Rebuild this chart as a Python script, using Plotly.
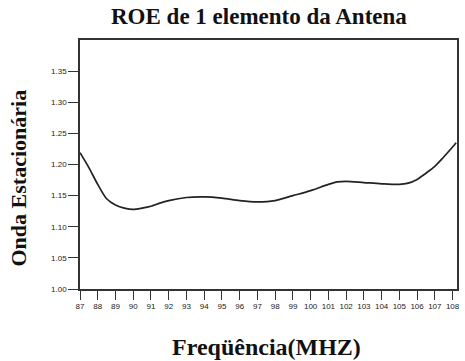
import plotly.graph_objects as go

# Frequência (MHz) e relação de onda estacionária medida
freq = [87.0, 87.5, 88.0, 88.5, 89.0, 89.5, 90.0, 90.5, 91.0, 91.5, 92.0, 93.0,
        94.0, 95.0, 96.0, 97.0, 98.0, 99.0, 100.0, 101.0, 101.5, 102.0, 103.0,
        104.0, 105.0, 105.5, 106.0, 106.5, 107.0, 107.5, 108.0, 108.2]
roe = [1.219, 1.195, 1.168, 1.145, 1.135, 1.130, 1.128, 1.130, 1.133, 1.138, 1.142, 1.147,
       1.148, 1.146, 1.142, 1.140, 1.142, 1.150, 1.158, 1.168, 1.172, 1.173, 1.171,
       1.169, 1.168, 1.170, 1.176, 1.186, 1.197, 1.212, 1.228, 1.235]

x_ticks = list(range(87, 109))
y_ticks = [1.00, 1.05, 1.10, 1.15, 1.20, 1.25, 1.30, 1.35]

fig = go.Figure()
fig.add_trace(go.Scatter(
    x=freq, y=roe, mode="lines",
    line=dict(color="#222222", width=1.7, shape="spline", smoothing=0.8),
    hoverinfo="skip", showlegend=False,
))

serif = "Liberation Serif, Times New Roman, serif"
tickfont = dict(family="Liberation Sans, Arial, sans-serif", size=8, color="#222222")

fig.update_layout(
    width=465, height=361,
    margin=dict(l=80, r=5, t=40, b=72),
    paper_bgcolor="white", plot_bgcolor="white",
    xaxis=dict(
        range=[87, 108.25], tickvals=x_ticks, ticktext=[str(v) for v in x_ticks],
        ticks="outside", ticklen=9, tickcolor="#333333", tickwidth=1,
        showline=True, linecolor="#333333", linewidth=1.5, mirror=True,
        showgrid=False, zeroline=False, tickfont=tickfont, tickangle=0,
    ),
    yaxis=dict(
        range=[1.0, 1.4], tickvals=y_ticks, ticktext=[f"{v:.2f}" for v in y_ticks],
        ticks="outside", ticklen=10, tickcolor="#333333", tickwidth=1,
        showline=True, linecolor="#333333", linewidth=1.5, mirror=True,
        showgrid=False, zeroline=False, tickfont=tickfont,
    ),
    annotations=[
        dict(text="<b>ROE de 1 elemento da Antena</b>", xref="paper", yref="paper",
             x=0.474, y=1.096, xanchor="center", yanchor="middle", showarrow=False,
             font=dict(family=serif, size=23, color="#111111")),
        dict(text="<b>Onda Estacionária</b>", xref="paper", yref="paper",
             x=-0.163, y=0.446, xanchor="center", yanchor="middle", showarrow=False,
             textangle=-90, font=dict(family=serif, size=22, color="#111111")),
        dict(text="<b>Freqüência(MHZ)</b>", xref="paper", yref="paper",
             x=0.495, y=-0.233, xanchor="center", yanchor="middle", showarrow=False,
             font=dict(family=serif, size=24, color="#111111")),
    ],
)

fig.write_html("out.html")
